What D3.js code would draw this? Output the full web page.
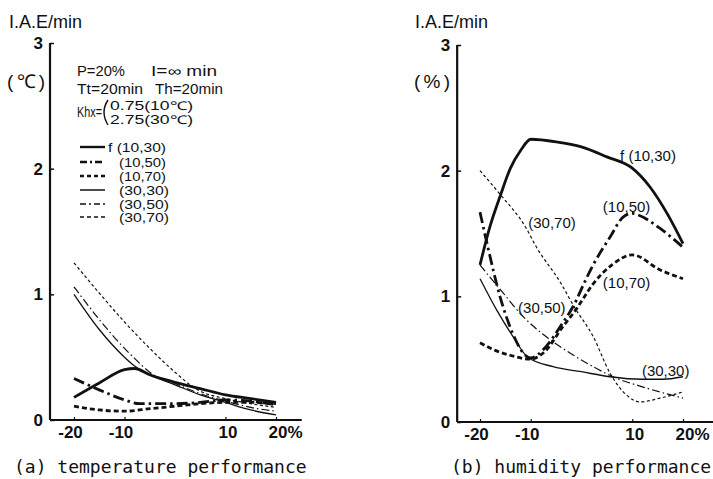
<!DOCTYPE html>
<html><head><meta charset="utf-8">
<script src="https://cdn.jsdelivr.net/npm/d3@7"></script>
<style>
body{margin:0;background:#fff}
svg{display:block}
text{font-family:"Liberation Sans",Arial,sans-serif;fill:#111}
</style>
</head><body>
<svg id="c" width="713" height="479"></svg>
<script>
// ---------- data ----------
const seriesNames = ["f (10,30)", "(10,50)", "(10,70)", "(30,30)", "(30,50)", "(30,70)"];
const xTicks = [-20, -10, 10, 20];
const xTickLabels = ["-20", "-10", "10", "20%"];
const yTicks = [0, 1, 2, 3];
const yTickLabels = ["0", "1", "2", "3"];

// (a) temperature performance
const tF1030X = [-20, -15, -10, -8, -5, 0, 5, 10, 15, 20];
const tF1030  = [0.18, 0.295, 0.40, 0.41, 0.36, 0.30, 0.25, 0.20, 0.17, 0.14];
const t1050X  = [-20, -15, -10, -7, -4, 0, 5, 10, 15, 20];
const t1050   = [0.33, 0.24, 0.16, 0.13, 0.13, 0.13, 0.14, 0.16, 0.15, 0.12];
const t1070X  = [-20, -15, -10, -5, 0, 5, 10, 15, 20];
const t1070   = [0.11, 0.08, 0.07, 0.09, 0.11, 0.13, 0.14, 0.14, 0.13];
const t3030X  = [-20, -15, -10, -8, -5, 0, 5, 10, 15, 20];
const t3030   = [1.00, 0.72, 0.50, 0.43, 0.36, 0.28, 0.20, 0.14, 0.08, 0.04];
const t3050X  = [-20, -15, -10, -8, -5, 0, 5, 10, 15, 20];
const t3050   = [1.06, 0.80, 0.57, 0.49, 0.38, 0.29, 0.21, 0.15, 0.10, 0.07];
const t3070X  = [-20, -15, -10, -5, 0, 3, 5, 10, 15, 20];
const t3070   = [1.25, 1.01, 0.78, 0.57, 0.38, 0.28, 0.23, 0.17, 0.13, 0.10];

// (b) humidity performance
const hF1030X = [-20, -18, -16, -14, -12, -10, -5, 0, 5, 10, 13.5, 17, 20];
const hF1030  = [1.25, 1.56, 1.80, 2.02, 2.16, 2.25, 2.23, 2.19, 2.11, 2.02, 1.87, 1.65, 1.42];
const h1050X  = [-20, -18.5, -16, -13.5, -11.5, -10, -7, -4, -1, 0, 2.3, 5.6, 8.2, 10, 11, 15.5, 20];
const h1050   = [1.67, 1.40, 0.99, 0.70, 0.55, 0.51, 0.60, 0.77, 0.97, 1.06, 1.25, 1.47, 1.63, 1.66, 1.65, 1.54, 1.39];
const h1070X  = [-20, -17, -14, -10, -7, -4, -1, 2.3, 6, 10, 15.5, 20];
const h1070   = [0.63, 0.57, 0.53, 0.50, 0.57, 0.74, 0.90, 1.10, 1.25, 1.33, 1.21, 1.14];
const h3030X  = [-20, -16.7, -13.5, -10.7, -5.6, 0, 5.6, 12, 16, 20];
const h3030   = [1.14, 0.89, 0.68, 0.52, 0.44, 0.40, 0.36, 0.34, 0.34, 0.36];
const h3050X  = [-20, -18, -15.5, -12, -7, -2.3, 2.3, 6.2, 12, 20];
const h3050   = [1.25, 1.15, 1.03, 0.86, 0.68, 0.55, 0.44, 0.36, 0.28, 0.19];
const h3070X  = [-20, -16, -11, -9, -4, -1.5, 2.3, 5.6, 9, 11.5, 15.5, 20];
const h3070   = [2.00, 1.81, 1.55, 1.40, 1.10, 0.92, 0.68, 0.39, 0.21, 0.16, 0.19, 0.24];

// curve labels on the humidity panel (anchor in data units)
const humLabelText = ["f (10,30)", "(10,50)", "(30,70)", "(10,70)", "(30,50)", "(30,30)"];
const humLabelX    = [7.6, 4.2, -10.5, 4.2, -12.5, 11.9];
const humLabelY    = [2.08, 1.67, 1.54, 1.07, 0.87, 0.37];

// ---------- styles ----------
const styles = [
  {w: 2.8, dash: null},
  {w: 2.8, dash: "11,4,2.5,4"},
  {w: 2.8, dash: "5,3"},
  {w: 1.3, dash: null},
  {w: 1.2, dash: "8,3,1.5,3"},
  {w: 1.2, dash: "3,2.5"}
];
const legendDash = [null, "7,3,2,3", "4,3", null, "6,3,2,3", "4,3"];

const svg = d3.select("#c");

function zipXY(xs, ys) { return xs.map((x, i) => [x, ys[i]]); }

function panel(cfg) {
  const x = d3.scaleLinear().domain([-20, 20]).range(cfg.xr);
  const y = d3.scaleLinear().domain([0, 3]).range(cfg.yr);
  const g = svg.append("g");

  // axis lines
  g.append("line").attr("x1", x(cfg.axisX[0])).attr("x2", x(cfg.axisX[0]))
    .attr("y1", y(0)).attr("y2", y(3)).attr("stroke", "#111").attr("stroke-width", 2.2);
  g.append("line").attr("x1", x(cfg.axisX[0])).attr("x2", x(cfg.axisX[1]))
    .attr("y1", y(0)).attr("y2", y(0)).attr("stroke", "#111").attr("stroke-width", 2.2);

  // y axis ticks
  const yAx = d3.axisLeft(y).tickValues(yTicks).tickSize(-4).tickPadding(7)
    .tickFormat((d, i) => yTickLabels[i]);
  const ya = g.append("g").attr("transform", `translate(${x(cfg.axisX[0])},0)`).call(yAx);
  ya.select(".domain").remove();
  ya.selectAll(".tick line").attr("stroke", "#111").attr("stroke-width", 1.5);
  ya.selectAll(".tick text").attr("font-size", 17).attr("font-weight", "bold")
    .attr("fill", "#111").attr("font-family", "Liberation Sans, Arial, sans-serif");

  // x axis ticks
  const xAx = d3.axisBottom(x).tickValues(xTicks).tickSize(-3).tickPadding(6)
    .tickFormat((d, i) => xTickLabels[i]);
  const xa = g.append("g").attr("transform", `translate(0,${y(0)})`).call(xAx);
  xa.select(".domain").remove();
  xa.selectAll(".tick line").attr("stroke", "#111").attr("stroke-width", 1.2);
  xa.selectAll(".tick text").attr("font-size", 17).attr("font-weight", "bold")
    .attr("fill", "#111").attr("font-family", "Liberation Sans, Arial, sans-serif")
    .attr("dx", (d) => d < 0 ? -4 : (d === 20 ? 9 : 2));

  // curves
  const line = d3.line().x(d => x(d[0])).y(d => y(d[1])).curve(d3.curveMonotoneX);
  cfg.series.forEach((s, i) => {
    g.append("path").datum(s).attr("d", line).attr("fill", "none")
      .attr("stroke", "#111").attr("stroke-width", styles[i].w)
      .attr("stroke-dasharray", styles[i].dash).attr("stroke-linejoin", "round");
  });

  // headings
  g.append("text").attr("x", cfg.headX).attr("y", 28).attr("font-size", 18).text("I.A.E/min");
  g.append("text").attr("x", cfg.unitX).attr("y", 88).attr("font-size", 19)
    .attr("textLength", cfg.unitW).attr("lengthAdjust", "spacing").text(cfg.unit);
  g.append("text").attr("x", cfg.titleX).attr("y", 473)
    .attr("font-size", 18).style("font-family", "DejaVu Sans Mono, monospace").text(cfg.title);
  return {g, x, y};
}

// (a) temperature
const A = panel({
  xr: [74, 276], yr: [420, 43], axisX: [-24.75, 25.1],
  headX: 9, unitX: 7, unitW: 38, unit: "(℃)", titleX: 14, title: "(a) temperature performance",
  series: [zipXY(tF1030X, tF1030), zipXY(t1050X, t1050), zipXY(t1070X, t1070),
           zipXY(t3030X, t3030), zipXY(t3050X, t3050), zipXY(t3070X, t3070)]
});

// parameters text block
const pg = A.g.append("g");
function ptxt(x, y, s, t, w) {
  const e = pg.append("text").attr("x", x).attr("y", y).attr("font-size", s).text(t);
  if (w) e.attr("textLength", w).attr("lengthAdjust", "spacingAndGlyphs");
  return e;
}
ptxt(77, 76, 14, "P=20%", 48);
ptxt(151, 76, 14, "I=∞ min", 66);
ptxt(77, 94, 14, "Tt=20min", 66);
ptxt(155, 94, 14, "Th=20min", 68);
ptxt(77, 117, 14, "Khx=", 25);
pg.append("path").attr("d", "M108,100 Q100,112 108,125").attr("fill", "none")
  .attr("stroke", "#111").attr("stroke-width", 1.4);
ptxt(110, 110, 12, "0.75(10℃)", 83);
ptxt(110, 124, 12, "2.75(30℃)", 83);

// legend
const legendY = [147, 162, 176, 190, 204, 217];
const legendW = [58, 47, 47, 50, 50, 50];
seriesNames.forEach((n, i) => {
  A.g.append("line").attr("x1", 80).attr("x2", 105).attr("y1", legendY[i]).attr("y2", legendY[i])
    .attr("stroke", "#111").attr("stroke-width", i < 3 ? 2.4 : 1.5)
    .attr("stroke-dasharray", legendDash[i]);
  A.g.append("text").attr("x", i === 0 ? 108 : 119).attr("y", legendY[i] + 5)
    .attr("font-size", 12).attr("textLength", legendW[i])
    .attr("lengthAdjust", "spacingAndGlyphs").text(n);
});

// (b) humidity
const B = panel({
  xr: [480, 683], yr: [422, 45], axisX: [-24.5, 26],
  headX: 415, unitX: 414, unitW: 36, unit: "(%)", titleX: 451, title: "(b) humidity performance",
  series: [zipXY(hF1030X, hF1030), zipXY(h1050X, h1050), zipXY(h1070X, h1070),
           zipXY(h3030X, h3030), zipXY(h3050X, h3050), zipXY(h3070X, h3070)]
});
humLabelText.forEach((t, i) => {
  B.g.append("text").attr("x", B.x(humLabelX[i])).attr("y", B.y(humLabelY[i]))
    .attr("font-size", 15).text(t);
});
</script>
</body></html>
